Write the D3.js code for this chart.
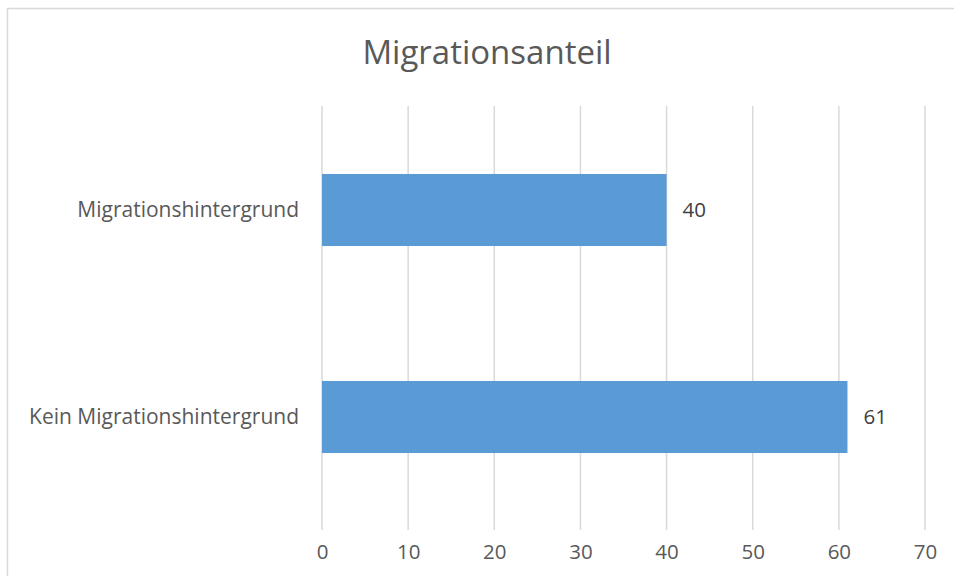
<!DOCTYPE html>
<html>
<head>
<meta charset="utf-8">
<script src="https://cdn.jsdelivr.net/npm/d3@7"></script>
<style>
  html, body { margin: 0; padding: 0; background: #fff; }
  svg { display: block; }
  text { font-family: "Open Sans", sans-serif; }
</style>
</head>
<body>
<svg id="chart" width="954" height="576"></svg>
<script>
const title = "Migrationsanteil";
const categories = ["Migrationshintergrund", "Kein Migrationshintergrund"];
const values = [40, 61];
const tickValues = [0, 10, 20, 30, 40, 50, 60, 70];

const svg = d3.select("#chart");

// chart border
svg.append("rect")
  .attr("x", 7.5).attr("y", 8.5)
  .attr("width", 980).attr("height", 620)
  .attr("fill", "#fff")
  .attr("stroke", "#d9d9d9").attr("stroke-width", 1.5);

const x = d3.scaleLinear().domain([0, 70]).range([322, 925]);
const y = d3.scaleBand().domain(categories).range([106.5, 520.5]).paddingInner(0.652).paddingOuter(0.326);

// title
svg.append("text")
  .attr("x", 487).attr("y", 64)
  .attr("text-anchor", "middle")
  .attr("font-size", 33)
  .attr("fill", "#595959")
  .text(title);

// gridlines
svg.append("g")
  .selectAll("line")
  .data(tickValues)
  .join("line")
  .attr("x1", d => x(d)).attr("x2", d => x(d))
  .attr("y1", 106).attr("y2", 530)
  .attr("stroke", "#d9d9d9").attr("stroke-width", 1.5);

// x axis labels
const xAxis = d3.axisBottom(x).tickValues(tickValues).tickSize(0).tickPadding(0);
const gx = svg.append("g").attr("transform", "translate(0,544)").call(xAxis);
gx.select(".domain").remove();
gx.selectAll("text")
  .attr("font-family", "Open Sans, sans-serif")
  .attr("font-size", 20.5)
  .attr("fill", "#595959");

// y axis labels
const yAxis = d3.axisLeft(y).tickSize(0).tickPadding(23);
const gy = svg.append("g").attr("transform", "translate(322,0)").call(yAxis);
gy.select(".domain").remove();
gy.selectAll("text")
  .attr("font-family", "Open Sans, sans-serif")
  .attr("font-size", 21)
  .attr("fill", "#595959");

// bars
svg.append("g")
  .selectAll("rect")
  .data(categories)
  .join("rect")
  .attr("x", x(0))
  .attr("y", d => y(d))
  .attr("width", (d, i) => x(values[i]) - x(0))
  .attr("height", y.bandwidth())
  .attr("fill", "#5b9bd5");

// value labels
svg.append("g")
  .selectAll("text")
  .data(categories)
  .join("text")
  .attr("x", (d, i) => x(values[i]) + 16)
  .attr("y", d => y(d) + y.bandwidth() / 2)
  .attr("dy", "0.35em")
  .attr("font-size", 20.5)
  .attr("fill", "#404040")
  .text((d, i) => values[i]);
</script>
</body>
</html>
